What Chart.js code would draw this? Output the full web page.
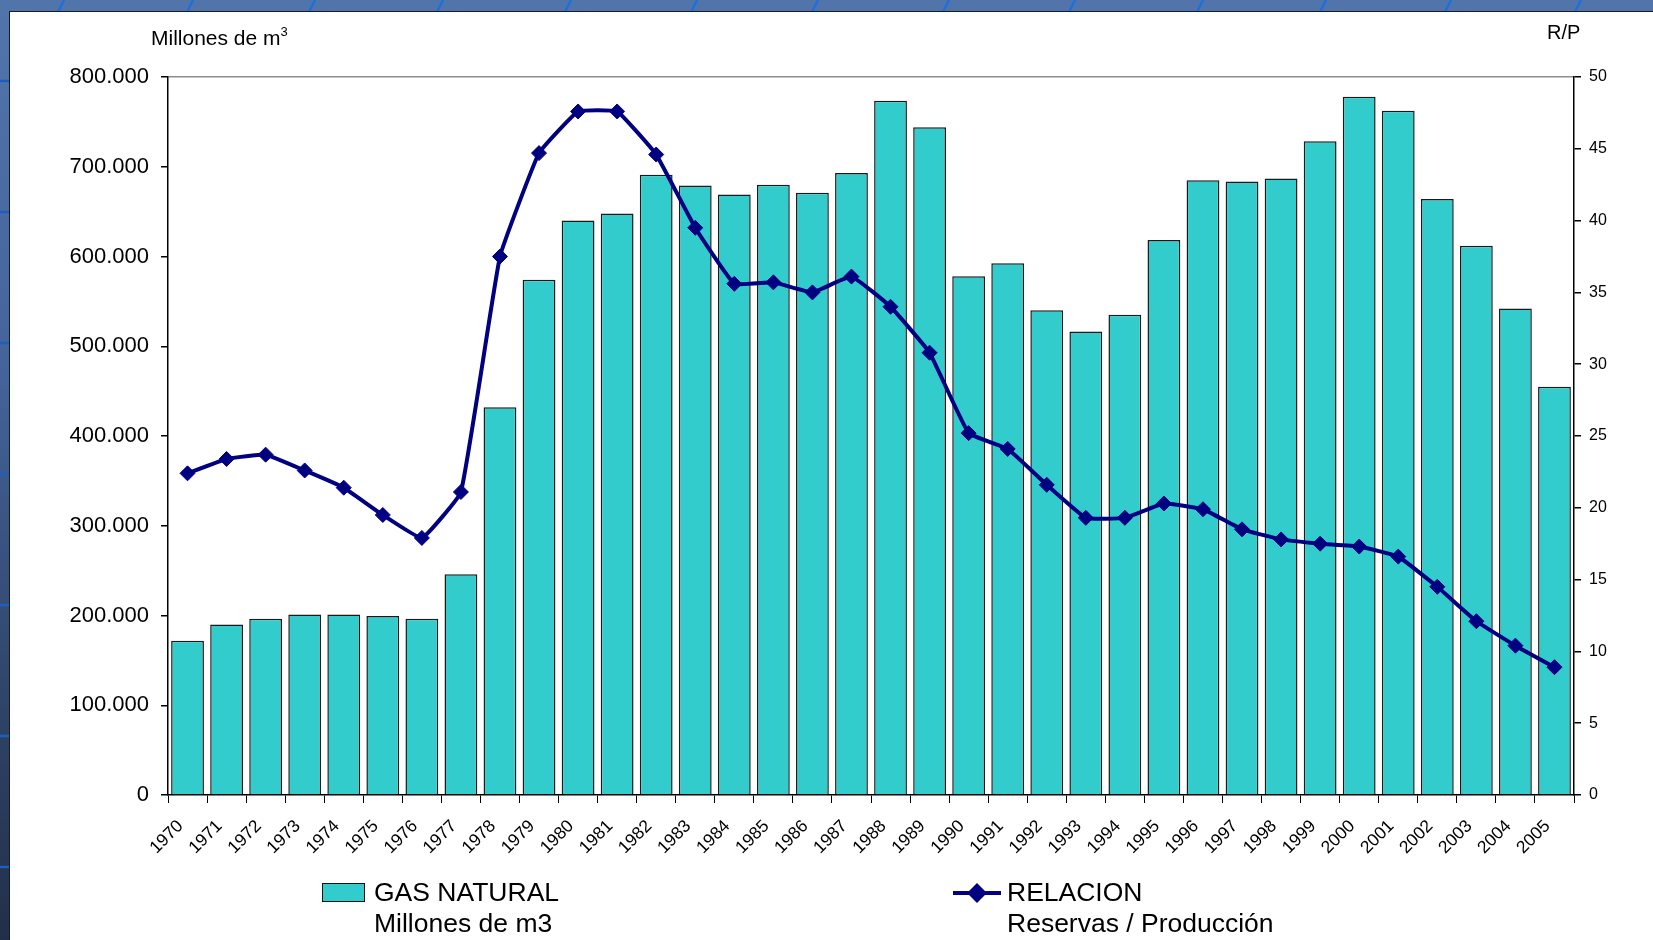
<!DOCTYPE html>
<html>
<head>
<meta charset="utf-8">
<title>Gas natural - R/P</title>
<script src="https://cdn.jsdelivr.net/npm/chart.js@4.4.1/dist/chart.umd.min.js"></script>
<style>
    html, body { margin: 0; padding: 0; }
    body {
        width: 1653px; height: 940px; overflow: hidden; position: relative;
        background: linear-gradient(to bottom, #5175aa 0%, #44639a 40%, #2f4468 75%, #222f49 100%);
        font-family: 'Liberation Sans', Arial, sans-serif;
    }
    #deco { position: absolute; left: 0; top: 0; }
    #panel {
        position: absolute; left: 9px; top: 11px; right: 0; bottom: 0;
        background: #fff; border-left: 1px solid #161b24; border-top: 1px solid #161b24;
    }
    #chartGas { position: absolute; left: 0; top: 0; }
    .txt { position: absolute; color: #000; white-space: nowrap; line-height: 1; }
    .box { position: absolute; background: #33cccc; border: 1.5px solid #111; box-sizing: border-box; }
</style>
</head>
<body>
<svg id="deco" width="1653" height="940"></svg>
<div id="panel"></div>
<canvas id="chartGas" width="1653" height="940"></canvas>

<div class="txt" style="left:151px; top:25px; font-size:21px;">Millones de m<sup style="font-size:13px; vertical-align:9px;">3</sup></div>
<div class="txt" style="left:1547px; top:22px; font-size:20px;">R/P</div>

<div class="box" style="left:322px; top:883px; width:43px; height:19px;"></div>
<div class="txt" style="left:374px; top:879px; font-size:26.5px;">GAS NATURAL</div>
<div class="txt" style="left:374px; top:910px; font-size:26.5px;">Millones de m3</div>

<svg style="position:absolute; left:953px; top:882px;" width="48" height="22">
    <line x1="0" y1="11" x2="48" y2="11" stroke="#000080" stroke-width="4"/>
    <rect x="17" y="4" width="14" height="14" fill="#000080" transform="rotate(45 24 11)"/>
</svg>
<div class="txt" style="left:1007px; top:879px; font-size:26.5px;">RELACION</div>
<div class="txt" style="left:1007px; top:910px; font-size:26.5px;">Reservas / Producción</div>

<script>
// years on the x axis
const years = ['1970', '1971', '1972', '1973', '1974', '1975', '1976', '1977', '1978', '1979',
    '1980', '1981', '1982', '1983', '1984', '1985', '1986', '1987', '1988', '1989',
    '1990', '1991', '1992', '1993', '1994', '1995', '1996', '1997', '1998', '1999',
    '2000', '2001', '2002', '2003', '2004', '2005'];

// GAS NATURAL, millones de m3 (left axis)
const gasNatural = [172000, 190000, 196500, 201000, 201000, 199500, 196500, 246000, 432000, 574000,
    640000, 648000, 691000, 679000, 669000, 680000, 671000, 693000, 773500, 744000,
    578000, 592500, 540000, 516500, 535000, 618500, 685000, 683500, 687000, 728500,
    778000, 762500, 664000, 612000, 542000, 455000];

// RELACION reservas / produccion (right axis)
const relacionRP = [22.4, 23.4, 23.7, 22.6, 21.4, 19.5, 17.9, 21.1, 37.5, 44.7,
    47.6, 47.6, 44.6, 39.5, 35.6, 35.7, 35.0, 36.1, 34.0, 30.8,
    25.2, 24.1, 21.6, 19.3, 19.3, 20.3, 19.9, 18.5, 17.8, 17.5,
    17.3, 16.6, 14.5, 12.1, 10.4, 8.9];

// axis ranges
const leftMax = 800000, leftStep = 100000;
const rightMax = 50, rightStep = 5;

// background strokes of the slide
const deco = document.getElementById('deco');
const slantX = [61, 190, 312, 440, 568, 694, 815, 946, 1072, 1200, 1323, 1448, 1578];
slantX.forEach(function (x) {
    const l = document.createElementNS('http://www.w3.org/2000/svg', 'line');
    l.setAttribute('x1', x - 3); l.setAttribute('y1', 12);
    l.setAttribute('x2', x + 3); l.setAttribute('y2', 0);
    l.setAttribute('stroke', '#1f6fdc'); l.setAttribute('stroke-width', 2.5);
    deco.appendChild(l);
});
[81, 212, 343, 474, 605, 736, 867].forEach(function (y) {
    const l = document.createElementNS('http://www.w3.org/2000/svg', 'line');
    l.setAttribute('x1', 0); l.setAttribute('y1', y);
    l.setAttribute('x2', 9); l.setAttribute('y2', y);
    l.setAttribute('stroke', '#1d5fc0'); l.setAttribute('stroke-width', 2.5);
    deco.appendChild(l);
});

function fmtMiles(value) {
    return String(value).replace(/\B(?=(\d{3})+(?!\d))/g, '.');
}

const ctx_gas = document.getElementById('chartGas').getContext('2d');

const data_gas = {
    labels: years,
    datasets: [{
        type: 'line',
        label: 'RELACION Reservas / Producción',
        data: relacionRP,
        yAxisID: 'y1',
        order: 0,
        borderColor: '#000080',
        backgroundColor: '#000080',
        borderWidth: 4,
        tension: 0.1,
        pointStyle: 'rectRot',
        pointRadius: 7.5,
        pointBackgroundColor: '#000080',
        pointBorderColor: '#000080',
        pointBorderWidth: 1
    }, {
        type: 'bar',
        label: 'GAS NATURAL Millones de m3',
        data: gasNatural,
        yAxisID: 'y',
        order: 1,
        backgroundColor: '#33cccc',
        borderColor: '#1a1a1a',
        borderWidth: 1.5,
        barPercentage: 0.84,
        categoryPercentage: 1
    }]
};

const config_gas = {
    data: data_gas,
    options: {
        responsive: false,
        animation: false,
        layout: { padding: { top: 77, bottom: 75, left: 0, right: 0 } },
        plugins: {
            legend: { display: false },
            tooltip: { enabled: false }
        },
        scales: {
            x: {
                offset: true,
                grid: { offset: true, drawOnChartArea: false, tickLength: 8, tickColor: '#000', lineWidth: 1 },
                border: { color: '#000', width: 1.5 },
                ticks: {
                    maxRotation: 45, minRotation: 45, padding: 13, labelOffset: -7, color: '#000',
                    font: { family: "'Liberation Sans', Arial, sans-serif", size: 17.5 }
                },
                afterFit: function (scale) { scale.height = 70; }
            },
            y: {
                position: 'left',
                min: 0,
                max: leftMax,
                grid: {
                    color: function (c) { return c.tick && c.tick.value === leftMax ? '#8c8c8c' : 'rgba(0,0,0,0)'; },
                    tickColor: '#000', tickLength: 7, lineWidth: 1.5
                },
                border: { color: '#000', width: 1.5 },
                ticks: {
                    stepSize: leftStep, padding: 12, color: '#000',
                    font: { family: "'Liberation Sans', Arial, sans-serif", size: 22 },
                    callback: function (value) { return fmtMiles(value); }
                },
                afterFit: function (scale) { scale.width = 168; }
            },
            y1: {
                position: 'right',
                min: 0,
                max: rightMax,
                grid: { drawOnChartArea: false, tickColor: '#000', tickLength: 7, lineWidth: 1.5 },
                border: { color: '#000', width: 1.5 },
                ticks: {
                    stepSize: rightStep, padding: 8, color: '#000',
                    font: { family: "'Liberation Sans', Arial, sans-serif", size: 16 }
                },
                afterFit: function (scale) { scale.width = 79; }
            }
        }
    }
};

const chart_gas = new Chart(ctx_gas, config_gas);
</script>
</body>
</html>
